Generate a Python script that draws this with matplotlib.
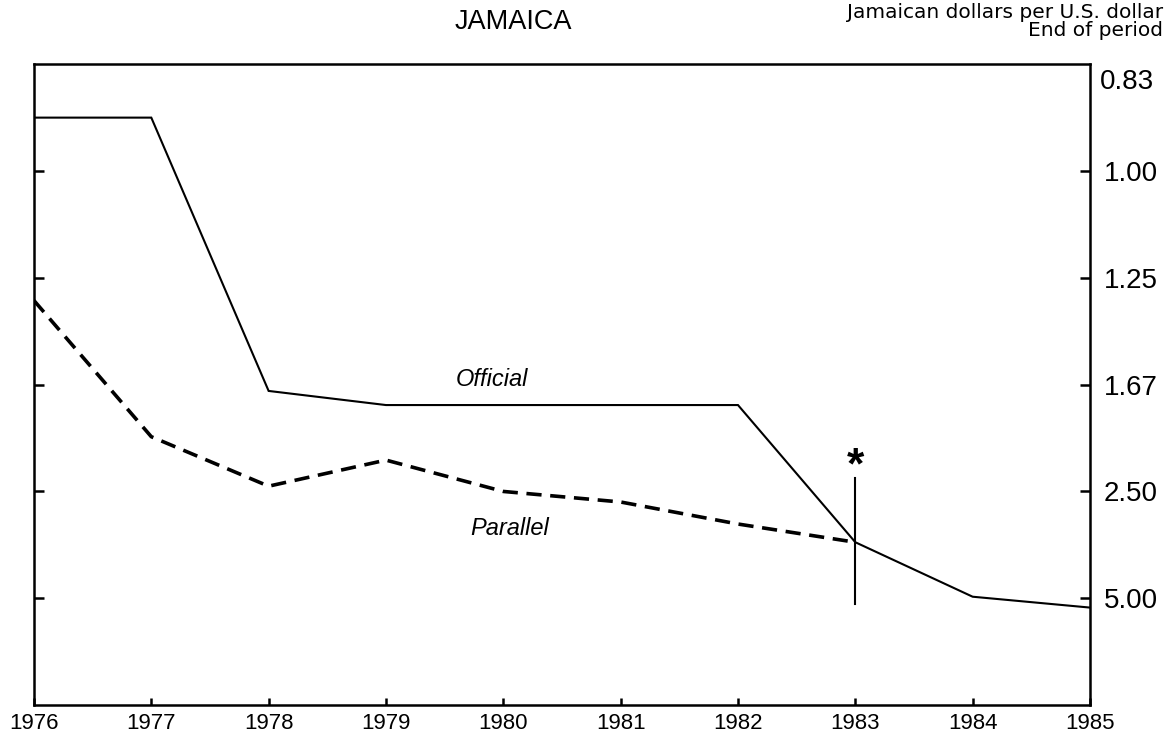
import numpy as np
import matplotlib
matplotlib.use("Agg")
import matplotlib.pyplot as plt
from matplotlib.transforms import blended_transform_factory

plt.rcParams['font.family'] = ['Liberation Sans', 'DejaVu Sans']

years = [1976, 1977, 1978, 1979, 1980, 1981, 1982, 1983, 1984, 1985]
official = [0.909, 0.909, 1.70, 1.78, 1.78, 1.78, 1.78, 3.28, 4.93, 5.48]
parallel_years = [1976, 1977, 1978, 1979, 1980, 1981, 1982, 1983]
parallel = [1.32, 1.99, 2.44, 2.18, 2.50, 2.63, 2.95, 3.28]
ytick_vals = [1.00, 1.25, 1.67, 2.50, 5.00]
ytick_labels = ["1.00", "1.25", "1.67", "2.50", "5.00"]
top_val = 0.833
marker_year = 1983
marker_range = (2.35, 5.26)
asterisk_val = 2.245

fig = plt.figure(figsize=(11.67, 7.36), dpi=100)
ax = fig.add_axes([0.0291, 0.0421, 0.9049, 0.8709])

def fwd(x):
    x = np.asarray(x, dtype=float)
    with np.errstate(divide='ignore'):
        return -1.0 / x

def inv(y):
    y = np.asarray(y, dtype=float)
    with np.errstate(divide='ignore'):
        return -1.0 / y

ax.set_yscale('function', functions=(fwd, inv))

ax.plot(years, official, color='black', lw=1.5, solid_joinstyle='miter')
ax.plot(parallel_years, parallel, color='black', lw=2.6, linestyle=(0, (4.2, 2.4)))
ax.plot([marker_year, marker_year], list(marker_range), color='black', lw=1.5)
ax.text(marker_year, asterisk_val, "*", ha='center', va='center', fontsize=32,
        fontweight='bold')

ax.set_xlim(1976, 1985)
ax.set_ylim(1e5, top_val)

ax.set_xticks(years)
ax.set_xticklabels([str(y) for y in years], fontsize=16)
ax.set_yticks(ytick_vals)
ax.set_yticklabels(ytick_labels, fontsize=20)
ax.yaxis.set_minor_locator(matplotlib.ticker.NullLocator())
ax.tick_params(axis='y', which='both', direction='in', left=True, right=True,
               labelleft=False, labelright=True, length=7, width=1.8, pad=10)
ax.tick_params(axis='x', direction='in', length=5, width=1.8, pad=6)

for s in ax.spines.values():
    s.set_linewidth(1.8)

tr = blended_transform_factory(ax.transAxes, ax.transAxes)
ax.text(1.0 + 10/1056, 1 - 18/641, "0.83", transform=tr, ha='left', va='center', fontsize=20)

ax.text(1979.9, 1.64, "Official", style='italic', fontsize=17, ha='center', va='center')
ax.text(1980.05, 3.02, "Parallel", style='italic', fontsize=17, ha='center', va='center')

fig.text(513/1167, 1 - 22/736, "JAMAICA", ha='center', va='center', fontsize=19.5)
fig.text(1163/1167, 1 - 12/736, "Jamaican dollars per U.S. dollar", ha='right', va='center',
         fontsize=14.5, family='DejaVu Sans')
fig.text(1163/1167, 1 - 30/736, "End of period", ha='right', va='center',
         fontsize=14.5, family='DejaVu Sans')

fig.savefig("out.png", dpi=100)
